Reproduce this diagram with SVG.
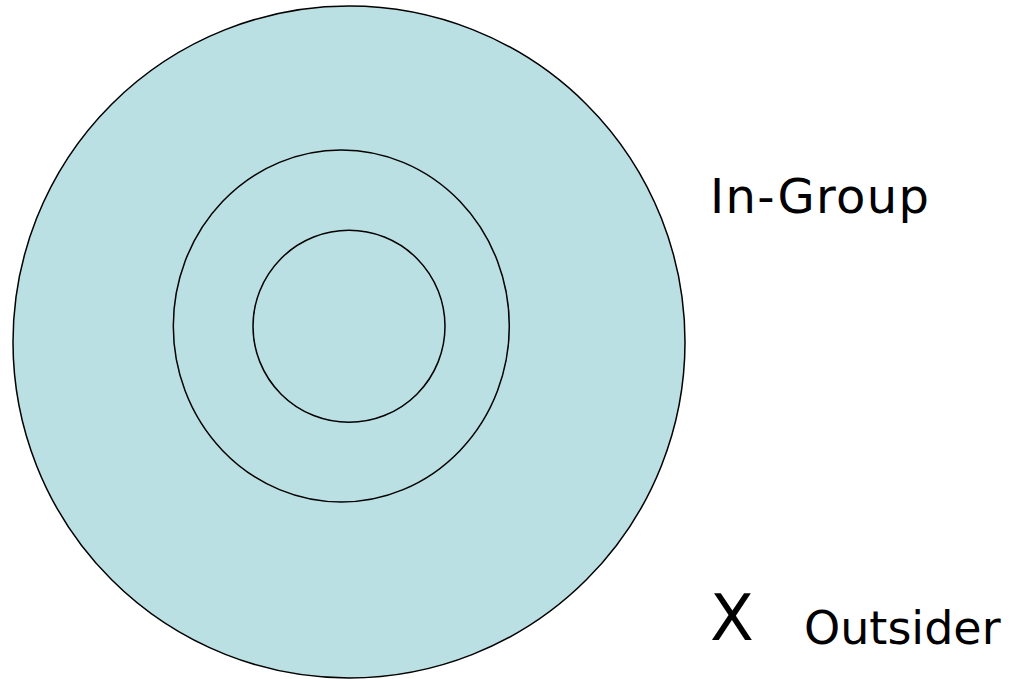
<svg xmlns="http://www.w3.org/2000/svg" width="1019" height="679" viewBox="0 0 1019 679">
<style>
.ring{fill:none;stroke:#000;stroke-width:1.5}
.lbl{font-family:"DejaVu Sans",Verdana,sans-serif;fill:#000}
</style>
<rect width="1019" height="679" fill="#fff"/>
<g id="outer"><circle cx="349" cy="342" r="336" fill="#bbe0e3" stroke="#000" stroke-width="1.5"/></g>
<g id="middle"><ellipse class="ring" cx="341.3" cy="326" rx="168" ry="176"/></g>
<g id="inner"><circle class="ring" cx="349" cy="326.3" r="96"/></g>
<g id="connectors"></g>
<g id="ingroup-label"><text class="lbl" x="710" y="213" font-size="48" letter-spacing="1.3">In-Group</text></g>
<g id="outsider-label">
<text class="lbl" x="710" y="640" font-size="64">X</text>
<text class="lbl" x="804" y="644" font-size="46">Outsider</text>
</g>
</svg>
